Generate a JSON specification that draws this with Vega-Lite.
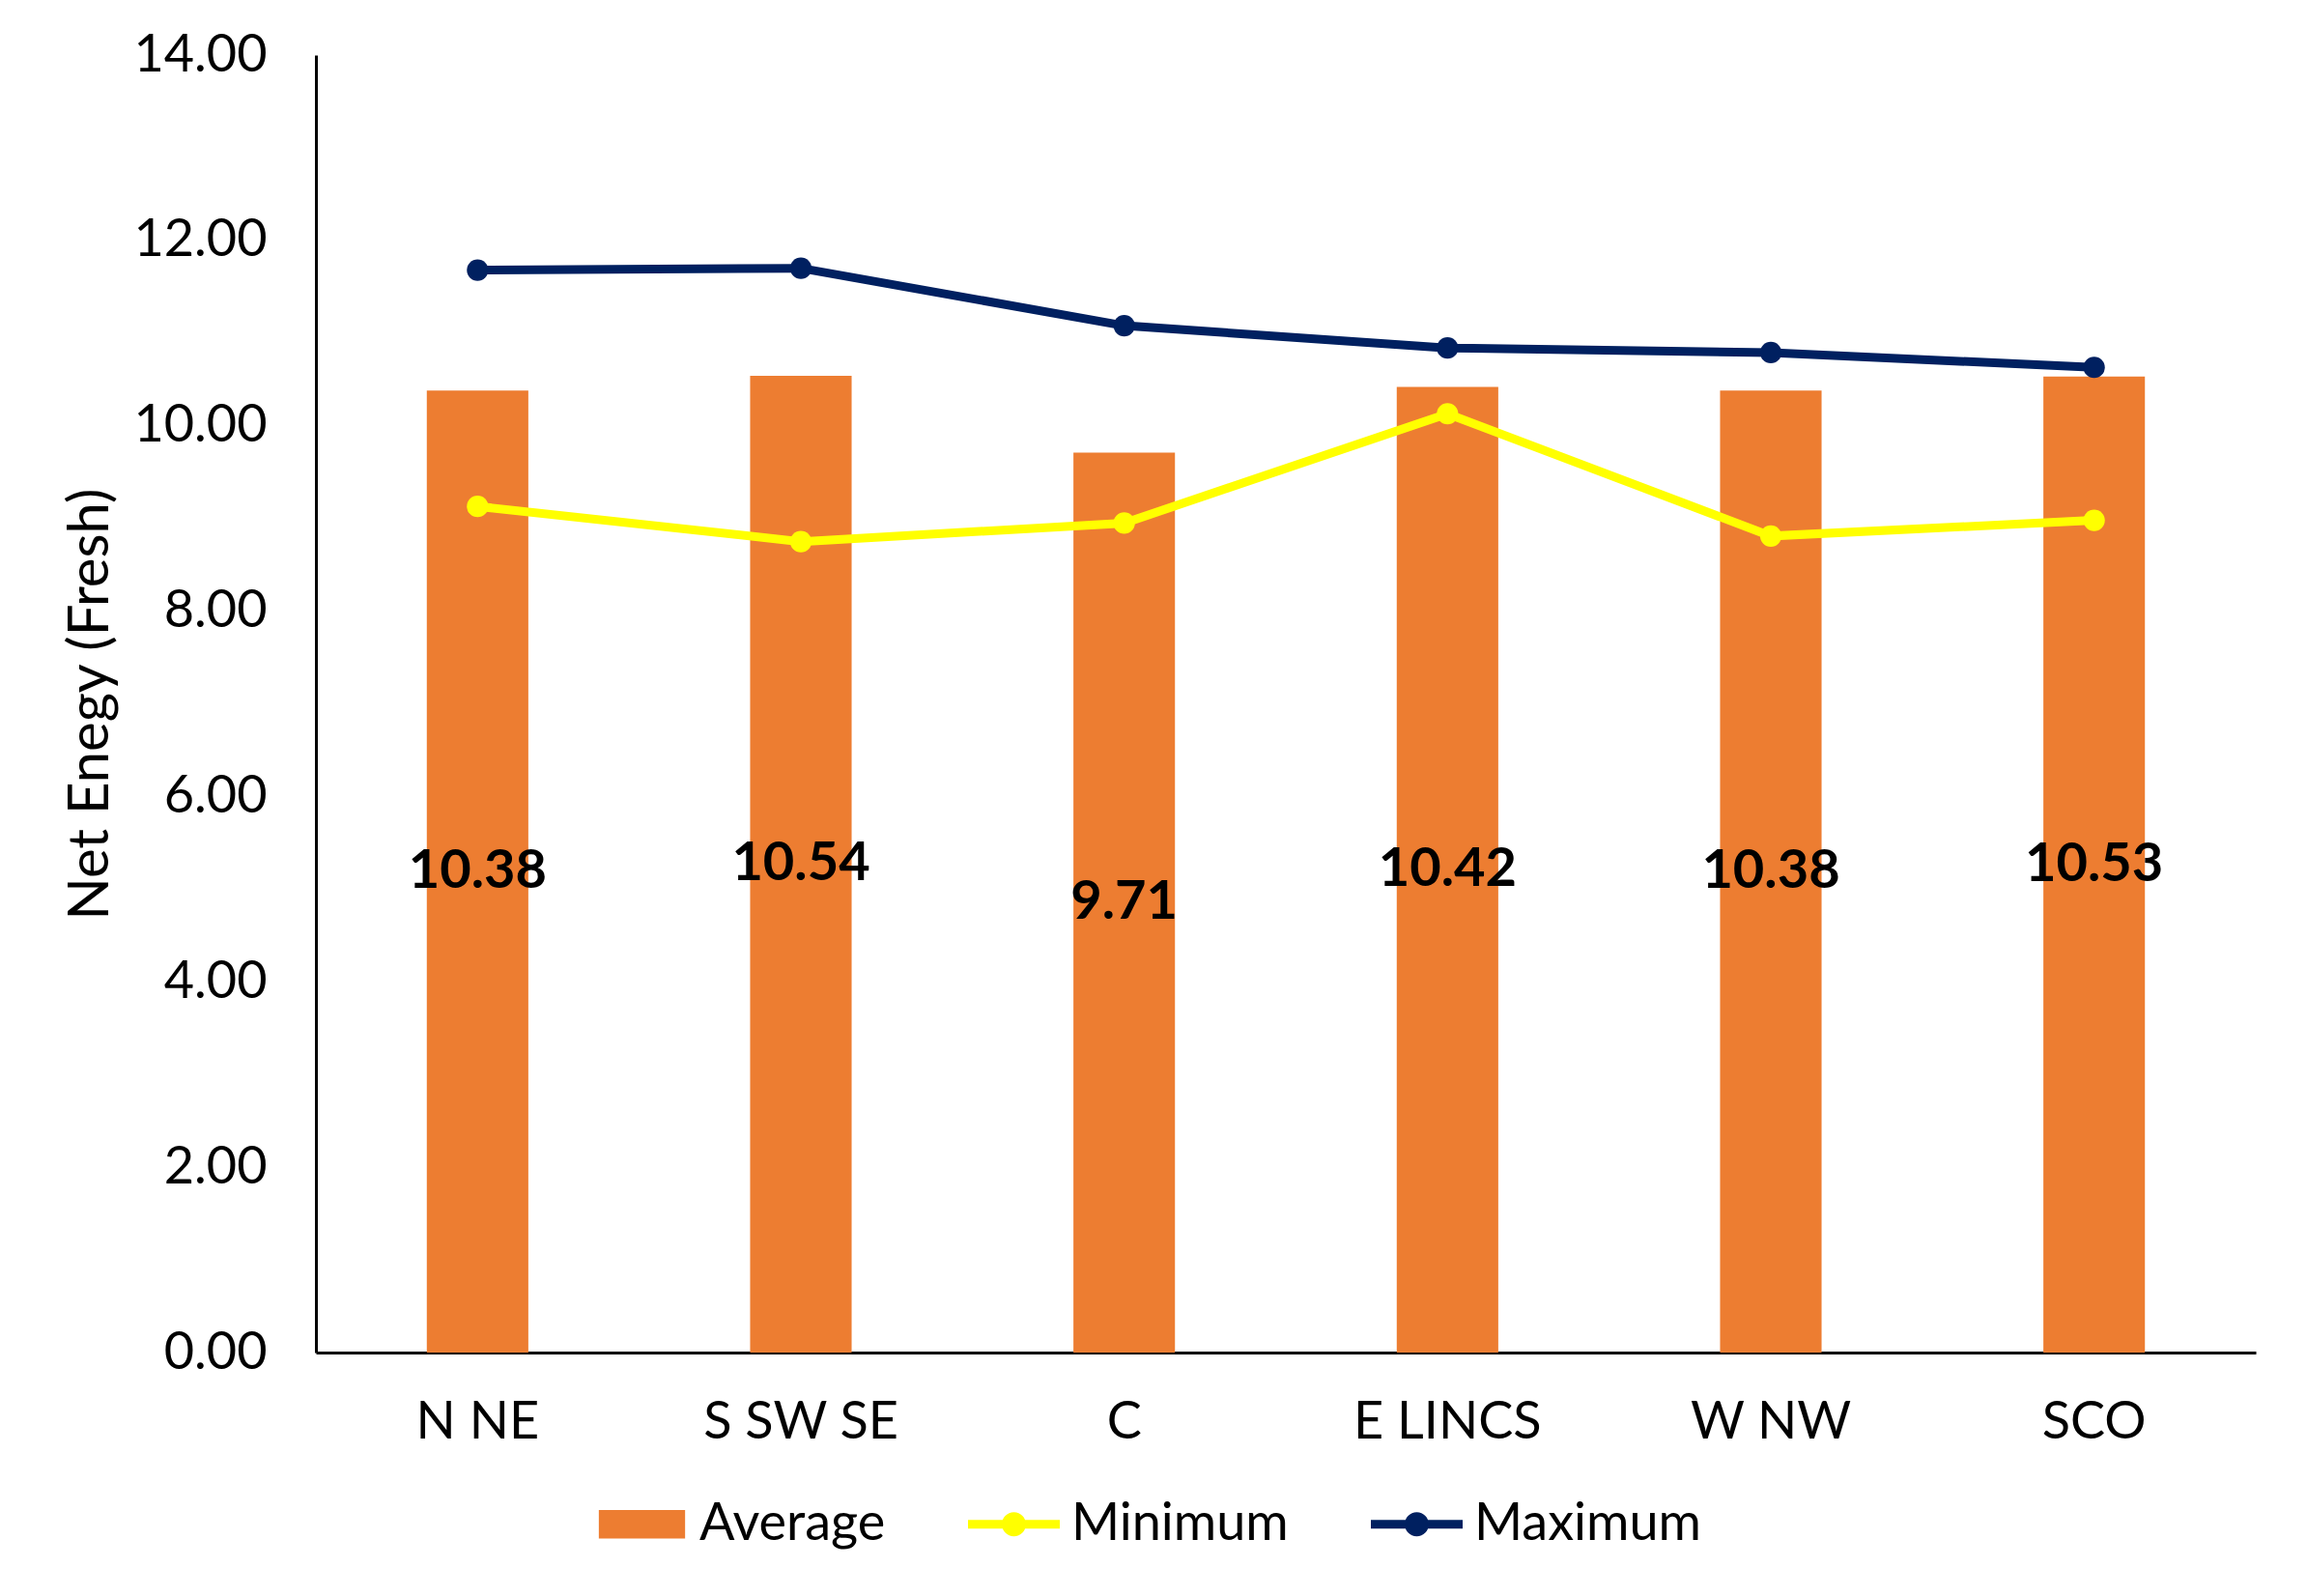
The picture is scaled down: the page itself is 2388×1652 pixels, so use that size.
{
  "$schema": "https://vega.github.io/schema/vega-lite/v6.json",
  "autosize": "none",
  "width": 2008,
  "height": 1343,
  "padding": {"left": 327, "top": 57, "right": 53, "bottom": 252},
  "background": "white",
  "config": {
    "view": {"stroke": null},
    "font": "Lato",
    "axis": {"labelFont": "Lato", "titleFont": "Lato", "labelColor": "black", "titleColor": "black", "grid": false, "ticks": false, "domainColor": "black", "domainWidth": 3, "labelOverlap": false, "labelLimit": 0},
    "legend": {"labelFont": "Lato", "labelColor": "black", "labelLimit": 0}
  },
  "data": {
    "values": [
      {"Region": "N NE", "Average": 10.38, "Minimum": 9.13, "Maximum": 11.68},
      {"Region": "S SW SE", "Average": 10.54, "Minimum": 8.75, "Maximum": 11.70},
      {"Region": "C", "Average": 9.71, "Minimum": 8.95, "Maximum": 11.08},
      {"Region": "E LINCS", "Average": 10.42, "Minimum": 10.13, "Maximum": 10.84},
      {"Region": "W NW", "Average": 10.38, "Minimum": 8.81, "Maximum": 10.79},
      {"Region": "SCO", "Average": 10.53, "Minimum": 8.98, "Maximum": 10.63}
    ]
  },
  "encoding": {
    "x": {
      "field": "Region", "type": "nominal", "sort": null,
      "scale": {"paddingInner": 0.686, "paddingOuter": 0.343},
      "axis": {"title": null, "labelAngle": 0, "labelFontSize": 54, "labelPadding": 45, "labelLimit": 0}
    }
  },
  "layer": [
    {
      "mark": {"type": "bar"},
      "encoding": {
        "y": {
          "field": "Average", "type": "quantitative",
          "scale": {"domain": [0, 14], "nice": false},
          "axis": {"title": "Net Enegy (Fresh)", "format": ".2f", "values": [0, 2, 4, 6, 8, 10, 12, 14], "labelOverlap": false, "labelFlush": false, "labelFontSize": 54, "labelPadding": 51, "titleFontSize": 58, "titleFontWeight": "normal", "titlePadding": 14}
        },
        "color": {
          "datum": "Average",
          "scale": {"domain": ["Average", "Minimum", "Maximum"], "range": ["#ED7D31", "#FFFF00", "#002060"]},
          "legend": {
            "title": null, "orient": "none", "direction": "horizontal", "legendX": 290, "legendY": 1473,
            "labelFontSize": 54, "labelOffset": 12, "labelLimit": 0, "columnPadding": 85, "symbolSize": 9025, "symbolStrokeWidth": 0,
            "encode": {"symbols": {"update": {
              "shape": {"signal": "datum.value === 'Average' ? 'M-0.94,-0.31H0.94V0.31H-0.94Z' : 'M-1,-0.095H1V0.095H-1Z M0.263,0A0.263,0.263,0,1,1,-0.263,0A0.263,0.263,0,1,1,0.263,0Z'"},
              "fill": {"scale": "color", "field": "value"},
              "strokeWidth": {"value": 0},
              "opacity": {"value": 1}
            }}}
          }
        }
      }
    },
    {
      "transform": [{"fold": ["Minimum", "Maximum"], "as": ["Series", "Value"]}],
      "mark": {"type": "line", "strokeWidth": 9, "point": {"filled": true, "size": 491}},
      "encoding": {
        "y": {"field": "Value", "type": "quantitative", "scale": {"domain": [0, 14], "nice": false}, "axis": null},
        "color": {
          "field": "Series", "type": "nominal",
          "legend": {
            "title": null, "orient": "none", "direction": "horizontal", "legendX": 290, "legendY": 1473,
            "labelFontSize": 54, "labelOffset": 12, "labelLimit": 0, "columnPadding": 85, "symbolSize": 9025, "symbolStrokeWidth": 0,
            "encode": {"symbols": {"update": {
              "shape": {"signal": "datum.value === 'Average' ? 'M-0.94,-0.31H0.94V0.31H-0.94Z' : 'M-1,-0.095H1V0.095H-1Z M0.263,0A0.263,0.263,0,1,1,-0.263,0A0.263,0.263,0,1,1,0.263,0Z'"},
              "fill": {"scale": "color", "field": "value"},
              "strokeWidth": {"value": 0},
              "opacity": {"value": 1}
            }}}
          }
        }
      }
    },
    {
      "mark": {"type": "text", "font": "Lato", "fontSize": 56, "fontWeight": "bold", "color": "black", "align": "center", "baseline": "middle"},
      "encoding": {
        "y": {"field": "Average", "type": "quantitative", "scale": {"domain": [0, 28], "nice": false}, "axis": null},
        "text": {"field": "Average", "type": "quantitative", "format": ".2f"}
      }
    }
  ],
  "resolve": {"scale": {"y": "independent"}}
}
